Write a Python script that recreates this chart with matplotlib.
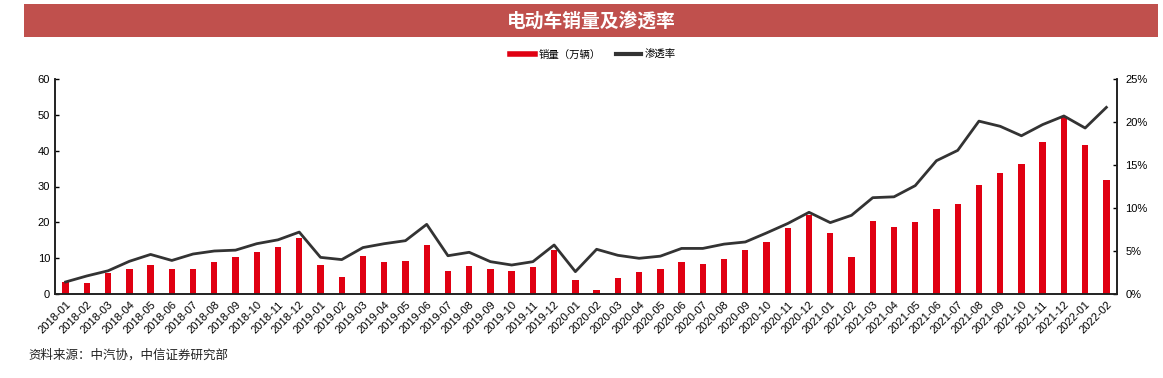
import matplotlib
matplotlib.use("Agg")
import matplotlib.pyplot as plt
from matplotlib.patches import Rectangle
from matplotlib.lines import Line2D
import numpy as np

plt.rcParams['font.family'] = ['Noto Sans CJK SC', 'DejaVu Sans']

months = []
for y in range(2018, 2023):
    for m in range(1, 13):
        if y == 2022 and m > 2:
            break
        months.append(f"{y}-{m:02d}")

sales = [3.3, 3.0, 5.8, 6.9, 8.2, 7.1, 7.1, 8.8, 10.2, 11.6, 13.2, 15.6,
         8.2, 4.7, 10.5, 8.8, 9.3, 13.6, 6.5, 7.7, 7.0, 6.4, 7.4, 12.2,
         4.0, 1.0, 4.5, 6.1, 7.1, 9.0, 8.5, 9.7, 12.2, 14.6, 18.3, 22.1,
         16.9, 10.2, 20.5, 18.7, 20.0, 23.7, 25.2, 30.4, 33.7, 36.3, 42.3, 49.6,
         41.7, 31.9]
penetration = [1.4, 2.1, 2.7, 3.8, 4.6, 3.9, 4.65, 5.0, 5.1, 5.85, 6.3, 7.2,
               4.26, 4.0, 5.4, 5.85, 6.2, 8.1, 4.45, 4.85, 3.76, 3.37, 3.76, 5.7,
               2.6, 5.2, 4.5, 4.15, 4.4, 5.3, 5.3, 5.8, 6.05, 7.1, 8.2, 9.5,
               8.3, 9.15, 11.2, 11.3, 12.6, 15.5, 16.7, 20.1, 19.5, 18.4, 19.7, 20.7,
               19.3, 21.7]

title = "电动车销量及渗透率"
legend_labels = ["销量（万辆）", "渗透率"]
source = "资料来源：中汽协，中信证券研究部"

bar_color = "#E00012"
line_color = "#333333"
title_bg = "#C0504D"

fig = plt.figure(figsize=(11.63, 3.78), dpi=100)
W, H = 1163, 378

# Title bar
fig.patches.append(Rectangle((24 / W, 1 - 37 / H), (1158 - 24) / W, 33 / H,
                             transform=fig.transFigure, facecolor=title_bg,
                             edgecolor='none', zorder=0))
fig.text(591 / W, 1 - 21 / H, title, color='white', fontsize=13.5,
         fontweight='bold', ha='center', va='center')

ax = fig.add_axes([55 / W, 1 - 294 / H, (1117 - 55) / W, (294 - 79) / H])
x = np.arange(len(months))
ax.bar(x, sales, width=0.3, color=bar_color, zorder=2)
ax.set_xlim(-0.5, len(months) - 0.5)
ax.set_ylim(0, 60)
ax.set_yticks(range(0, 61, 10))
ax.set_xticks(x)
ax.set_xticklabels(months, rotation=45, ha='right', rotation_mode='anchor',
                   fontsize=8, family=['Liberation Sans', 'DejaVu Sans'])
ax.tick_params(axis='x', length=0, pad=4)
ax.tick_params(axis='y', direction='in', length=3, labelsize=8, width=1)
for lab in ax.get_yticklabels():
    lab.set_family(['Liberation Sans', 'DejaVu Sans'])
ax.spines['top'].set_visible(False)
for s in ['left', 'bottom', 'right']:
    ax.spines[s].set_linewidth(1.2)
    ax.spines[s].set_color('#222222')

ax2 = ax.twinx()
ax2.plot(x, penetration, color=line_color, linewidth=2, zorder=3)
ax2.set_ylim(0, 25)
ax2.set_yticks(range(0, 26, 5))
ax2.set_yticklabels([f"{v}%" for v in range(0, 26, 5)],
                    family=['Liberation Sans', 'DejaVu Sans'])
ax2.tick_params(axis='y', direction='in', length=3, labelsize=8, width=1, pad=6)
ax2.spines['top'].set_visible(False)
for s in ['left', 'bottom', 'right']:
    ax2.spines[s].set_linewidth(1.2)
    ax2.spines[s].set_color('#222222')

handles = [Line2D([0], [0], color=bar_color, linewidth=4),
           Line2D([0], [0], color=line_color, linewidth=3)]
fig.legend(handles, legend_labels, loc='center', bbox_to_anchor=(593 / W, 1 - 55 / H),
           ncol=2, frameon=False, fontsize=7.5, handlelength=2.4,
           handletextpad=0.3, columnspacing=1.5)

fig.text(28 / W, 1 - 355 / H, source, fontsize=9, color='#222222',
         ha='left', va='center')

fig.savefig("out.png", dpi=100)
